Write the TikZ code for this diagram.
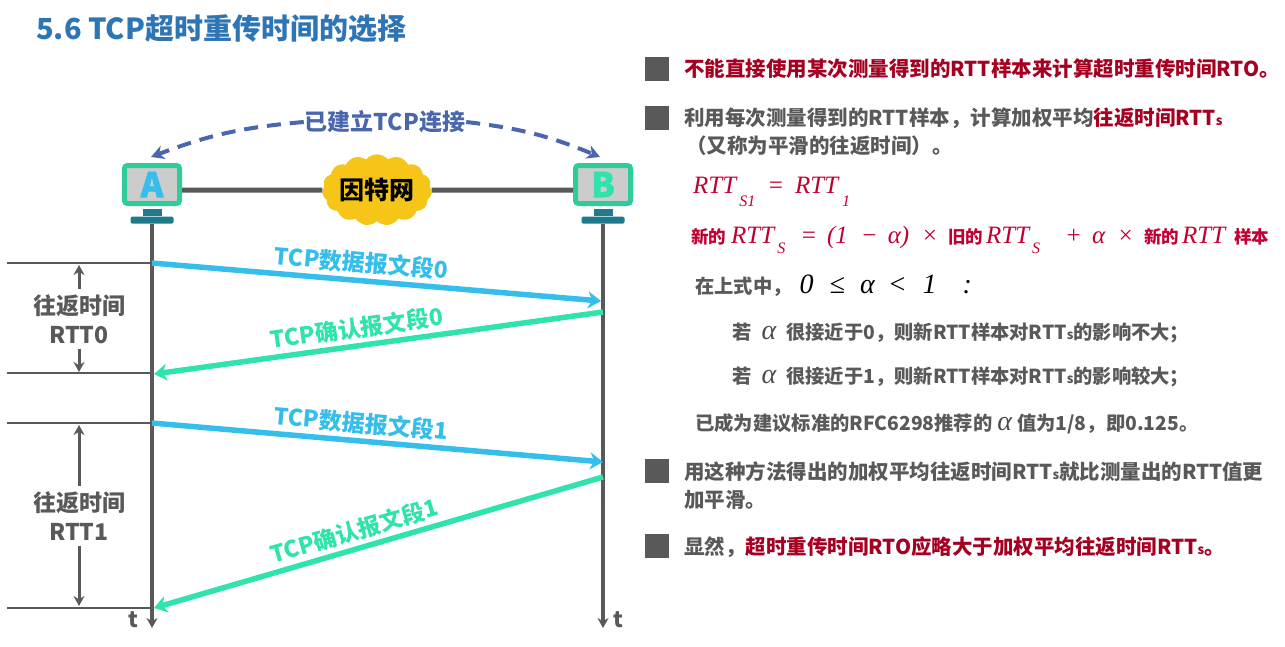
\documentclass[tikz,border=0pt]{standalone}
\usepackage{fontspec}
\setmainfont{Noto Sans CJK SC}
\newfontfamily\formulafont{Liberation Serif}
\newfontfamily\hostfont[BoldFeatures={FakeBold=2}]{Noto Sans CJK SC}
\usepackage{xcolor}
\usetikzlibrary{positioning,arrows.meta,shapes.symbols}
\definecolor{titleblue}{HTML}{2E75B6}
\definecolor{bodygray}{HTML}{595959}
\definecolor{darkred}{HTML}{A50021}
\definecolor{fmlred}{HTML}{C00030}
\definecolor{segblue}{HTML}{35BDEB}
\definecolor{ackgreen}{HTML}{30E3AC}
\definecolor{boxgreen}{HTML}{2ECC9B}
\definecolor{standteal}{HTML}{1F7A8C}
\definecolor{connblue}{HTML}{4A66AC}
\definecolor{netyellow}{HTML}{F5C518}
\newcommand{\fmlfont}{\fontsize{25}{30}\selectfont\formulafont\mdseries\itshape}
\newcommand{\subfont}{\fontsize{16}{18}\selectfont\formulafont\mdseries\itshape}
\newcommand{\alphafont}{\fontsize{28}{30}\selectfont\formulafont\mdseries\itshape\color{black!70}}
\newcommand{\rttsub}[1]{{\fmlfont RTT}\hspace{3pt}\raisebox{-1.1ex}{\subfont #1}}
\newcommand{\smalls}{{\fontsize{13}{15}\selectfont s}}
\newcommand{\red}[1]{\textcolor{darkred}{#1}}
\newcommand{\gap}[1]{\hspace{#1pt}}

\begin{document}
\begin{tikzpicture}[x=1pt, y=-1pt, >=Stealth,
		bodytext/.style={anchor=west, inner sep=0pt, text=bodygray, font=\fontsize{20.5}{28}\selectfont\bfseries, align=left},
		subtext/.style={bodytext, font=\fontsize{19.3}{28}\selectfont\bfseries},
		monitor/.style={draw=boxgreen, line width=5pt, rounded corners=3pt, fill=black!20, minimum width=55pt, minimum height=38pt, inner sep=0pt, font=\hostfont\fontsize{34}{34}\selectfont\bfseries},
		neck/.style={fill=standteal, minimum width=19pt, minimum height=7pt, inner sep=0pt},
		base/.style={fill=standteal, rounded corners=1.5pt, minimum width=43pt, minimum height=7pt, inner sep=0pt},
		bullet/.style={fill=bodygray, minimum size=24pt, inner sep=0pt},
		wire/.style={draw=bodygray, line width=5pt},
		life/.style={draw=bodygray, line width=3.2pt, -{Stealth[length=10pt,width=11pt]}},
		tick/.style={draw=bodygray, line width=2pt},
		span/.style={draw=bodygray, line width=3pt, -{Stealth[length=10pt,width=11pt]}},
		seg/.style={draw=segblue, line width=5.5pt, -{Stealth[length=13pt,width=17pt]}},
		ack/.style={draw=ackgreen, line width=5.5pt, -{Stealth[length=13pt,width=17pt]}},
		seglabel/.style={sloped, above=4pt, inner sep=0pt, text=segblue, font=\fontsize{23}{26}\selectfont\bfseries},
		acklabel/.style={sloped, above=4pt, inner sep=0pt, text=ackgreen, font=\fontsize{23}{26}\selectfont\bfseries},
		rttlabel/.style={inner sep=0pt, text=bodygray, align=center, font=\fontsize{23}{29}\selectfont\bfseries},
		timelabel/.style={inner sep=0pt, text=bodygray, font=\fontsize{22}{24}\selectfont\bfseries},
		dashedarc/.style={draw=connblue, line width=4pt, dash pattern=on 14pt off 9pt, -{Stealth[length=13pt,width=14pt]}}]
	\useasboundingbox (0,0) rectangle (1285,646);

	\node[anchor=west, inner sep=0pt, text=titleblue, font=\fontsize{29}{34}\selectfont\bfseries] (title) at (36,29) {5.6 TCP超时重传时间的选择};

	% the two hosts and the network
	\node[monitor, text=segblue] (A) at (152,184.5) {A};
	\node[monitor, text=ackgreen] (B) at (603,184.5) {B};
	\node[neck, below=3pt of A] (neckA) {};
	\node[neck, below=3pt of B] (neckB) {};
	\node[base, below=0pt of neckA] (baseA) {};
	\node[base, below=0pt of neckB] (baseB) {};
	\node[cloud, cloud puffs=15, cloud puff arc=100, aspect=1.7, fill=netyellow, minimum width=96pt, minimum height=54pt, inner sep=0pt, font=\fontsize{25}{28}\selectfont\bfseries] (net) at (377,190) {因特网};
	\draw[wire] (A.east |- net) -- (net) -- (B.west |- net);

	\node[inner sep=1pt, text=connblue, font=\fontsize{23}{28}\selectfont\bfseries] (conn) at (385,122) {已建立TCP连接};
	\draw[dashedarc] (conn.west) to[bend right=8] ([xshift=-1pt,yshift=6pt]A.north);
	\draw[dashedarc] (conn.east) to[bend left=8] ([xshift=-3pt,yshift=6pt]B.north);

	% time axes
	\coordinate (endA) at (152,628);
	\coordinate (endB) at (603,628);
	\draw[life] (baseA) -- (endA);
	\draw[life] (baseB) -- (endB);
	\node[timelabel] (tA) at (133,620) {t};
	\node[timelabel] (tB) at (618,620) {t};

	\coordinate (a0) at (152,263);
	\coordinate (b0) at (601,301);
	\coordinate (b1) at (603,312);
	\coordinate (a1) at (154,374);
	\coordinate (a2) at (152,423);
	\coordinate (b2) at (603,462);
	\coordinate (b3) at (603,477);
	\coordinate (a3) at (154,608);

	\path
	(a0) edge[seg] node[seglabel, pos=.463] {TCP数据报文段0} (b0)
	(b1) edge[ack] node[acklabel, pos=.543] {TCP确认报文段0} (a1)
	(a2) edge[seg] node[seglabel, pos=.46] {TCP数据报文段1} (b2)
	(b3) edge[ack] node[acklabel, pos=.543] {TCP确认报文段1} (a3);

	% round trip times on the left
	\coordinate (l0) at (7,263);
	\coordinate (l1) at (7,373);
	\coordinate (l2) at (7,423);
	\coordinate (l3) at (7,608);
	\coordinate (m1) at (152,373);
	\coordinate (m3) at (152,608);
	\draw[tick] (l0) -- (a0);
	\draw[tick] (l1) -- (m1);
	\draw[tick] (l2) -- (a2);
	\draw[tick] (l3) -- (m3);
	\node[rttlabel] (rtt0) at (79,319) {往返时间\\RTT0};
	\node[rttlabel] (rtt1) at (79,516) {往返时间\\RTT1};
	\draw[span] (rtt0.north) ++(0,-5) -- (79,265);
	\draw[span] (rtt0.south) ++(0,5) -- (79,372);
	\draw[span] (rtt1.north) ++(0,-5) -- (79,425);
	\draw[span] (rtt1.south) ++(0,5) -- (79,606);

	% text on the right
	\node[bullet] (b1st) at (657,69) {};
	\node[bullet] (b2nd) at (657,118) {};
	\node[bullet] (b3rd) at (657,471) {};
	\node[bullet] (b4th) at (657,546) {};

	\node[bodytext, text=darkred] (p1) at (684,69) {不能直接使用某次测量得到的RTT样本来计算超时重传时间RTO。};
	\node[bodytext] (p2) at (684,118) {利用每次测量得到的RTT样本，计算加权平均\red{往返时间RTT\smalls}};
	\node[bodytext] (p2b) at (686,146) {（又称为平滑的往返时间）。};
	\node[bodytext, text=fmlred] (f1) at (693,192) {\rttsub{S1}\gap{12}{\fmlfont =}\gap{11}{\fmlfont RTT}\gap{4}\raisebox{-1.1ex}{\subfont 1}};
	\node[bodytext, text=fmlred, font=\fontsize{17.5}{20}\selectfont\bfseries] (f2) at (691,240) {新的\gap{5}\rttsub{S}\gap{15}{\fmlfont =}\gap{10}{\fmlfont (1}\gap{13}{\fmlfont −}\gap{10}{\fmlfont α)}\gap{12}{\fmlfont ×}\gap{10}旧的\gap{3}\rttsub{S}\gap{25}{\fmlfont +}\gap{10}{\fmlfont α}\gap{12}{\fmlfont ×}\gap{10}新的\gap{3}{\fmlfont RTT}\gap{9}样本};
	\node[subtext] (f3) at (695,286) {在上式中，\gap{8}{\fmlfont\color{black}\fontsize{28}{30}\selectfont 0\gap{16}≤\gap{15}α\gap{13}<\gap{16}1\gap{26}:}};
	\node[subtext] (c1) at (732,333) {若\gap{10}{\alphafont α}\gap{10}很接近于0，则新RTT样本对RTT\smalls 的影响不大；};
	\node[subtext] (c2) at (732,377) {若\gap{10}{\alphafont α}\gap{10}很接近于1，则新RTT样本对RTT\smalls 的影响较大；};
	\node[subtext] (c3) at (695,424) {已成为建议标准的RFC6298推荐的\gap{5}{\alphafont α}\gap{5}值为1/8，即0.125。};
	\node[bodytext] (p3) at (684,472) {用这种方法得出的加权平均往返时间RTT\smalls 就比测量出的RTT值更};
	\node[bodytext] (p3b) at (684,500) {加平滑。};
	\node[bodytext] (p4) at (684,547) {显然，\red{超时重传时间RTO应略大于加权平均往返时间RTT\smalls 。}};
\end{tikzpicture}
\end{document}
